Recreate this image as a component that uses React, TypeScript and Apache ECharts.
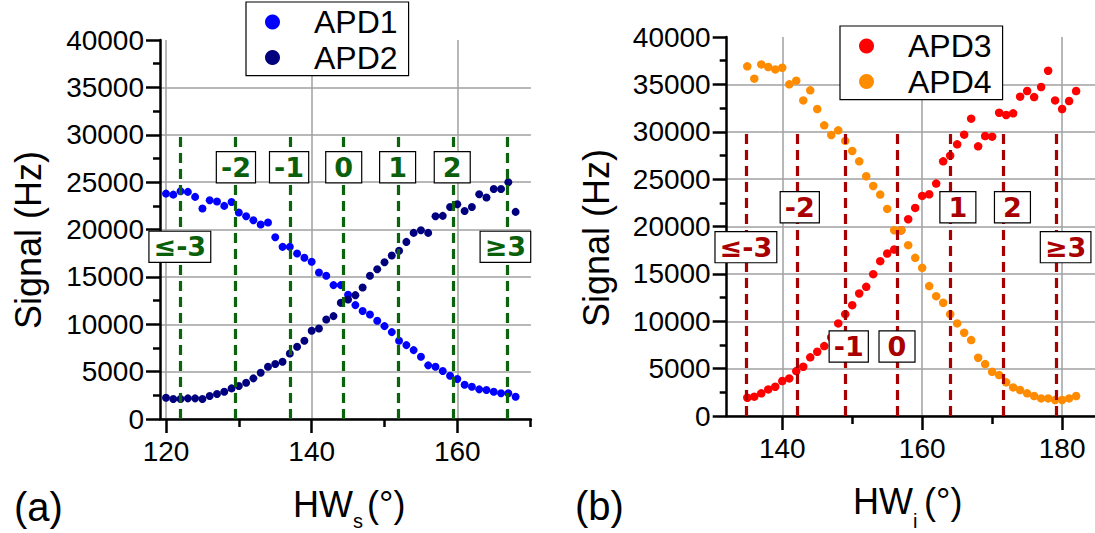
import React, { useEffect, useRef } from "react";
import * as echarts from "echarts";

// ---------- data ----------
const hwS = [120, 121, 122, 123, 124, 125, 126, 127, 128, 129, 130, 131, 132, 133, 134, 135, 136, 137, 138, 139, 140, 141, 142, 143, 144, 145, 146, 147, 148, 149, 150, 151, 152, 153, 154, 155, 156, 157, 158, 159, 160, 161, 162, 163, 164, 165, 166, 167, 168];
const apd1 = [23790, 23680, 24040, 23970, 23440, 22210, 23090, 22950, 22490, 22910, 21790, 21400, 20980, 20520, 20730, 19190, 18170, 18170, 17470, 17010, 16590, 15460, 15110, 14130, 14130, 13110, 12020, 11390, 11030, 10370, 9800, 9170, 8260, 7800, 7270, 6570, 5660, 5520, 5060, 4570, 4220, 3620, 3410, 3130, 3060, 2880, 2710, 2710, 2350];
const apd2 = [2250, 2110, 2110, 2180, 2180, 2110, 2430, 2640, 2880, 3230, 3480, 3830, 4290, 4880, 5520, 5800, 6040, 6920, 7630, 8260, 9310, 9560, 10510, 10860, 12260, 12620, 13070, 13880, 15110, 15810, 16550, 17250, 17750, 18690, 19640, 19920, 19640, 21400, 21440, 22380, 22670, 21960, 22380, 23720, 23370, 24280, 24280, 24990, 21860];

const hwI = [135, 136, 137, 138, 139, 140, 141, 142, 143, 144, 145, 146, 147, 148, 149, 150, 151, 152, 153, 154, 155, 156, 157, 158, 159, 160, 161, 162, 163, 164, 165, 166, 167, 168, 169, 170, 171, 172, 173, 174, 175, 176, 177, 178, 179, 180, 181, 182];
const apd3 = [1930, 2040, 2390, 2810, 3090, 3690, 3970, 4740, 5200, 6190, 6780, 7380, 8290, 9770, 10750, 11700, 12930, 13630, 14970, 16340, 17150, 17570, 19610, 20770, 21960, 23230, 23400, 24530, 26880, 27480, 28670, 29690, 31380, 28460, 29550, 29480, 32010, 31770, 31940, 33700, 34300, 33660, 34720, 36440, 33310, 32400, 33240, 34300];
const apd4 = [36900, 35600, 37110, 36830, 36580, 36760, 35000, 35390, 33310, 34370, 32400, 30680, 29660, 30150, 29030, 27970, 26880, 25300, 24280, 23370, 21860, 19610, 19610, 18030, 16690, 15640, 13710, 12650, 11950, 10750, 9770, 8790, 8010, 6150, 5480, 4670, 4320, 3550, 3020, 2740, 2390, 2110, 1860, 1860, 1690, 1690, 1860, 2110];

const guideTop = 30000;
const leftGuides = [122, 129.5, 137, 144.4, 151.9, 159.5, 166.9];
const rightGuides = [134.9, 142.2, 149.0, 156.5, 164.0, 171.6, 179.1];

const orderLabels = ["≤-3", "-2", "-1", "0", "1", "2", "≥3"];
const leftLabelX = [121.9, 129.6, 136.9, 144.4, 151.8, 159.3, 166.6];
const leftLabelY = [18170, 26570, 26570, 26570, 26570, 26570, 18170];
const rightLabelX = [134.8, 142.5, 149.5, 156.4, 165.1, 172.9, 180.5];
const rightLabelY = [17820, 22030, 7340, 7340, 22030, 22030, 17820];

const leftMajorX = [120, 140, 160];
const leftMinorX = [130, 150, 170];
const rightMajorX = [140, 160, 180];
const rightMinorX = [150, 170];

const FONT = '"Liberation Sans", Arial, sans-serif';

function zip(xs: number[], ys: number[]) {
  return xs.map((x, i) => [x, ys[i]]);
}

export default function App() {
  const ref = useRef<HTMLDivElement>(null);
  useEffect(() => {
    document.body.style.margin = "0";
    const chart = echarts.init(ref.current!, undefined, { renderer: "svg" });

    const axisLineStyle = { color: "#000", width: 2.5 };
    const gridColor = "#a0a0a0";

    const mkXAxes = (grid: number, min: number, max: number, major: number[], minor: number[]) => [
      {
        type: "value",
        gridIndex: grid,
        min,
        max,
        position: "bottom",
        axisLine: { show: true, onZero: false, lineStyle: axisLineStyle },
        axisTick: { show: true, inside: false, length: 14, customValues: major, lineStyle: { color: "#000", width: 2.5 } },
        axisLabel: { show: true, customValues: major, margin: 18, color: "#000", fontSize: 28, fontFamily: FONT },
        splitLine: { show: true, lineStyle: { color: gridColor, width: 1.5 } },
      },
      {
        type: "value",
        gridIndex: grid,
        min,
        max,
        position: "bottom",
        axisLine: { show: false, onZero: false },
        axisTick: { show: true, inside: false, length: 8, customValues: minor, lineStyle: { color: "#000", width: 2.5 } },
        axisLabel: { show: false },
        splitLine: { show: false },
      },
    ];

    const mkYAxis = (grid: number) => ({
      type: "value",
      gridIndex: grid,
      min: 0,
      max: 40000,
      interval: 5000,
      axisLine: { show: true, onZero: false, lineStyle: axisLineStyle },
      axisTick: { show: true, inside: false, length: 14, lineStyle: { color: "#000", width: 2.5 } },
      minorTick: { show: true, splitNumber: 2, length: 7, lineStyle: { color: "#000", width: 2.5 } },
      axisLabel: { margin: 16, color: "#000", fontSize: 28, fontFamily: FONT, formatter: (v: number) => String(v) },
      splitLine: { show: true, showMaxLine: false, lineStyle: { color: gridColor, width: 1.5 } },
    });

    const guideSeries = (xi: number, yi: number, xs: number[], color: string) => ({
      type: "scatter",
      name: "guides" + xi,
      xAxisIndex: xi,
      yAxisIndex: yi,
      data: [],
      z: 1,
      silent: true,
      markLine: {
        silent: true,
        symbol: ["none", "none"],
        label: { show: false },
        lineStyle: { color, width: 3.2, type: [10, 6] },
        data: xs.map((x) => [{ coord: [x, 0] }, { coord: [x, guideTop] }]),
      },
    });

    const labelSeries = (xi: number, yi: number, xs: number[], ys: number[], color: string) => ({
      type: "scatter",
      name: "labels" + xi,
      xAxisIndex: xi,
      yAxisIndex: yi,
      data: [],
      z: 6,
      silent: true,
      markPoint: {
        silent: true,
        symbol: "rect",
        symbolSize: 1,
        itemStyle: { color: "rgba(0,0,0,0)" },
        label: {
          show: true,
          position: "inside",
          formatter: (p: any) => p.name,
          color,
          fontFamily: '"DejaVu Sans", sans-serif',
          fontWeight: "bold",
          fontSize: 27,
          lineHeight: 28,
          backgroundColor: "#fff",
          borderColor: "#000",
          borderWidth: 1.2,
        },
        data: orderLabels.map((t, i) => ({
          name: t,
          coord: [xs[i], ys[i]],
          label: { padding: t.length === 1 ? [1, 8, 1, 8] : [1, 4, 1, 4] },
        })),
      },
    });

    const dotSeries = (name: string, xi: number, yi: number, xs: number[], ys: number[], color: string, size: number) => ({
      type: "scatter",
      name,
      xAxisIndex: xi,
      yAxisIndex: yi,
      data: zip(xs, ys),
      symbolSize: size,
      z: 3,
      itemStyle: { color, opacity: 1 },
    });

    const legendCommon = {
      orient: "vertical",
      selectedMode: false,
      icon: "circle",
      itemWidth: 31,
      itemHeight: 15,
      itemGap: 3.6,
      padding: [4, 11, 2, 19],
      borderColor: "#000",
      borderWidth: 1.2,
      backgroundColor: "#fff",
      textStyle: { fontSize: 32, fontFamily: FONT, color: "#000", padding: [0, 0, 0, 21] },
    };

    const green = "#0a5f0a";
    const greenLine = "#0b640b";
    const darkRed = "#a80000";

    const option: any = {
      animation: false,
      grid: [
        { left: 160, top: 40, width: 370.9, height: 379 },
        { left: 726.7, top: 37, width: 368.5, height: 379 },
      ],
      xAxis: [
        ...mkXAxes(0, 119.176, 170.1, leftMajorX, leftMinorX),
        ...mkXAxes(1, 132.057, 184.7, rightMajorX, rightMinorX),
      ],
      yAxis: [mkYAxis(0), mkYAxis(1)],
      legend: [
        { ...legendCommon, left: 246, top: 2, data: ["APD1", "APD2"] },
        { ...legendCommon, left: 840, top: 26, data: ["APD3", "APD4"] },
      ],
      series: [
        guideSeries(0, 0, leftGuides, greenLine),
        guideSeries(2, 1, rightGuides, darkRed),
        dotSeries("APD1", 0, 0, hwS, apd1, "#0000ff", 8),
        dotSeries("APD2", 0, 0, hwS, apd2, "#00007f", 8),
        dotSeries("APD3", 2, 1, hwI, apd3, "#ff0000", 8.5),
        dotSeries("APD4", 2, 1, hwI, apd4, "#ff8c00", 8.5),
        labelSeries(0, 0, leftLabelX, leftLabelY, green),
        labelSeries(2, 1, rightLabelX, rightLabelY, darkRed),
      ],
      graphic: [
        { type: "text", x: 28, y: 240, rotation: Math.PI / 2, style: { text: "Signal (Hz)", font: `36px ${FONT}`, fill: "#000", align: "center", verticalAlign: "middle" } },
        { type: "text", x: 596, y: 238, rotation: Math.PI / 2, style: { text: "Signal (Hz)", font: `36px ${FONT}`, fill: "#000", align: "center", verticalAlign: "middle" } },
        { type: "text", x: 293, y: 504, style: { text: "HW", font: `36px ${FONT}`, fill: "#000", align: "left", verticalAlign: "middle" } },
        { type: "text", x: 353, y: 521, style: { text: "s", font: `20px ${FONT}`, fill: "#000", align: "left", verticalAlign: "middle" } },
        { type: "text", x: 367, y: 504, style: { text: "(°)", font: `36px ${FONT}`, fill: "#000", align: "left", verticalAlign: "middle" } },
        { type: "text", x: 853, y: 501, style: { text: "HW", font: `36px ${FONT}`, fill: "#000", align: "left", verticalAlign: "middle" } },
        { type: "text", x: 913, y: 521, style: { text: "i", font: `20px ${FONT}`, fill: "#000", align: "left", verticalAlign: "middle" } },
        { type: "text", x: 924, y: 501, style: { text: "(°)", font: `36px ${FONT}`, fill: "#000", align: "left", verticalAlign: "middle" } },
        { type: "text", x: 14, y: 507, style: { text: "(a)", font: `40px ${FONT}`, fill: "#000", align: "left", verticalAlign: "middle" } },
        { type: "text", x: 575, y: 506, style: { text: "(b)", font: `40px ${FONT}`, fill: "#000", align: "left", verticalAlign: "middle" } },
      ],
    };

    chart.setOption(option);
    return () => chart.dispose();
  }, []);

  return <div ref={ref} style={{ width: 1095, height: 533, position: "absolute", left: 0, top: 0 }} />;
}
